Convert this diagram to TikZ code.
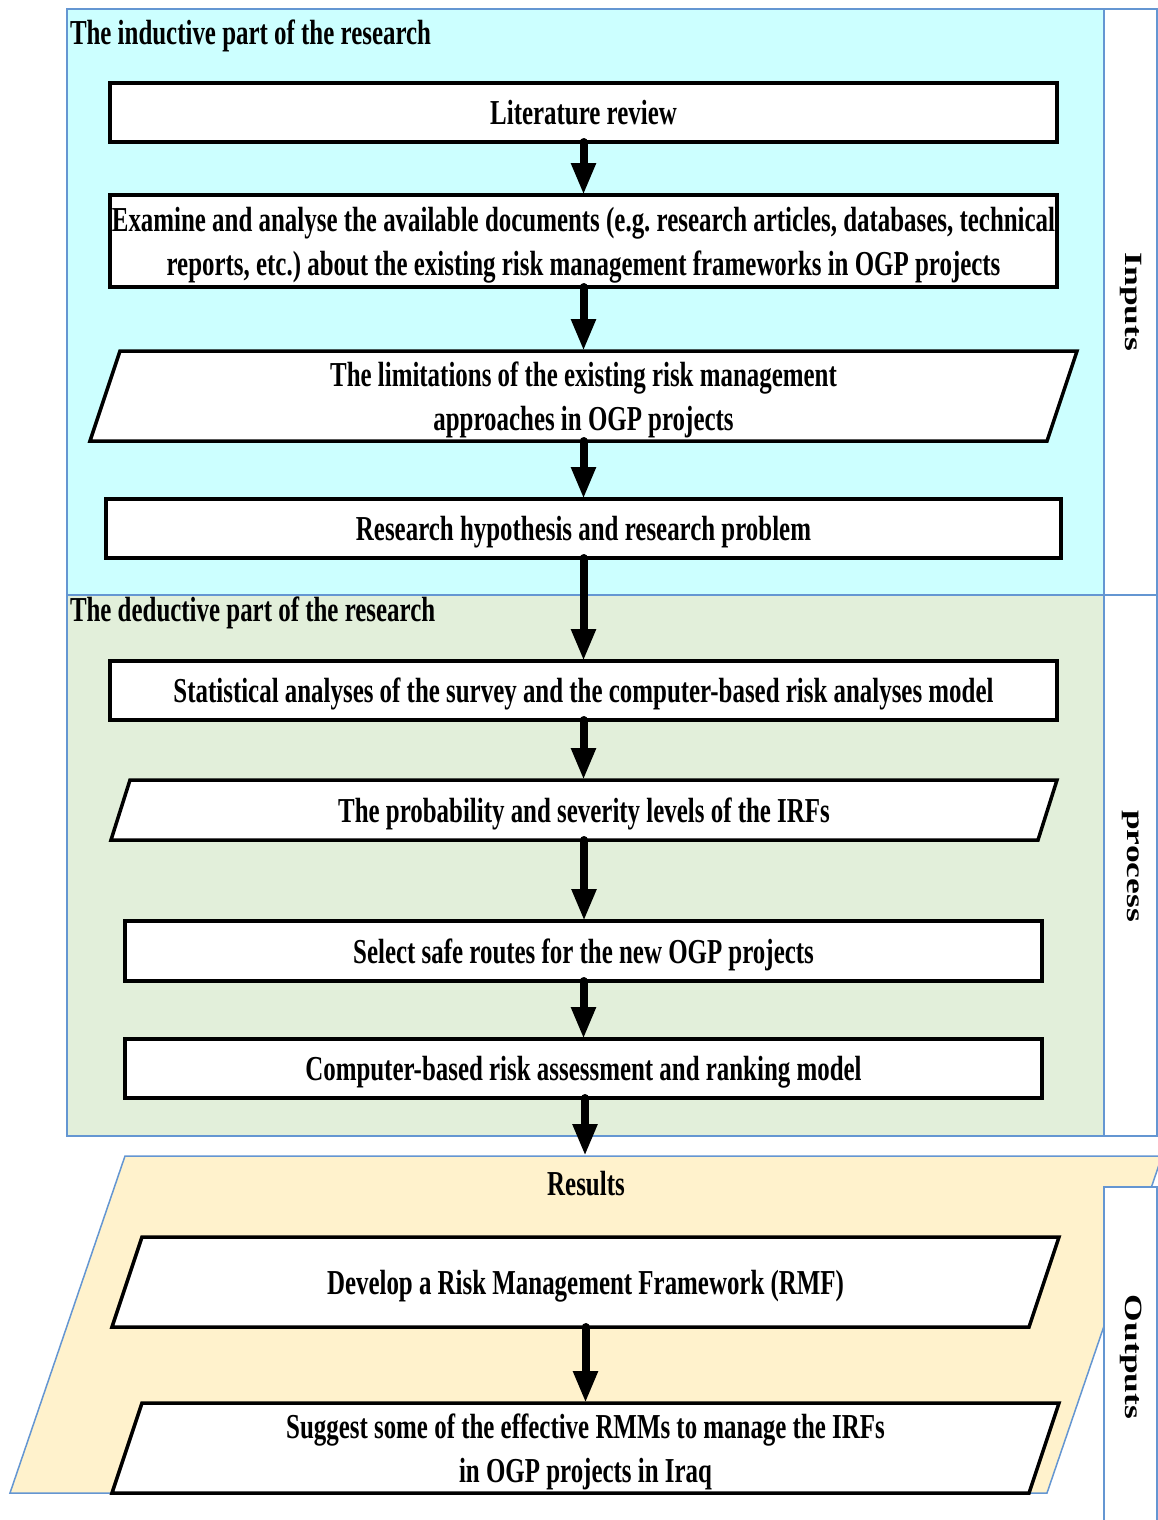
\documentclass[tikz,border=0pt]{standalone}
\usepackage{fontspec}
\setmainfont{Liberation Serif}
\newfontfamily\boxfont{Liberation Serif}[FakeStretch=0.712]
\newfontfamily\sidefont{Liberation Serif}[FakeStretch=1.43]
\usetikzlibrary{arrows.meta,calc}
\pgfdeclarelayer{panels}
\pgfdeclarelayer{shapes}
\pgfsetlayers{panels,shapes,main}

\definecolor{panelblue}{RGB}{100,150,210}
\definecolor{inputfill}{RGB}{204,255,255}
\definecolor{processfill}{RGB}{226,239,218}
\definecolor{outputfill}{RGB}{255,242,204}

\tikzset{
  boxtext/.style={font=\boxfont\bfseries\fontsize{35}{44}\selectfont\frenchspacing,
    align=center, inner sep=0pt, outer sep=0pt, text depth=0pt},
  rectbox/.style={boxtext, draw=black, line width=3.5pt, fill=white},
  slantbox/.style={boxtext},
  shapeline/.style={draw=black, line width=3.5pt, fill=white, line join=miter},
  sidetext/.style={font=\sidefont\bfseries\fontsize{24.8}{30}\selectfont,
    inner sep=0pt, rotate=-90},
  panel/.style={draw=panelblue, line width=1.5pt},
  conn/.style={line width=8pt, line cap=round,
    -{Triangle[width=23pt,length=32pt]}}
}

% parallelogram outline around an (invisible) node: #1 node, #2 slant
\newcommand\slantoutline[2]{%
  \draw[shapeline] ($(#1.north west)+(#2,0)$) -- (#1.north east)
    -- ($(#1.south east)-(#2,0)$) -- (#1.south west) -- cycle;}

\begin{document}
\begin{tikzpicture}[x=1pt,y=-1pt]
\useasboundingbox (0,0) rectangle (1158,1520);

% ---- background panels ----
\begin{pgfonlayer}{panels}
  \fill[white] (0,0) rectangle (1158,1520);
  \filldraw[panel, fill=inputfill] (67,9) rectangle (1104,595);
  \filldraw[panel, fill=white] (1104,9) rectangle (1157,595);
  \filldraw[panel, fill=processfill] (67,595) rectangle (1104,1136);
  \filldraw[panel, fill=white] (1104,595) rectangle (1157,1136);
  \filldraw[panel, fill=outputfill] (125,1156) -- (1162,1156) -- (1047,1493) -- (10,1493) -- cycle;
  \filldraw[panel, fill=white] (1104,1523) -- (1104,1187) -- (1157,1187) -- (1157,1523);
\end{pgfonlayer}

% ---- section headings and side labels ----
\node[boxtext, anchor=base west] (indhead) at (70,45) {The inductive part of the research};
\node[boxtext, anchor=base west] (dedhead) at (70,621) {The deductive part of the research};
\node[sidetext] (inlabel) at (1131,302) {Inputs};
\node[sidetext] (proclabel) at (1131,866) {process};
\node[sidetext] (outlabel) at (1131,1357) {Outputs};

% ---- inductive part ----
\node[rectbox, minimum width=947pt, minimum height=59pt] (lit) at (583.5,112.5) {Literature review};
\node[rectbox, minimum width=947pt, minimum height=92pt] (exam) at (583.5,241)
  {Examine and analyse the available documents (e.g. research articles, databases, technical\\
   reports, etc.) about the existing risk management frameworks in OGP projects};
\node[slantbox, minimum width=987pt, minimum height=90pt] (limit) at (583.5,396)
  {The limitations of the existing risk management\\approaches in OGP projects};
\node[rectbox, minimum width=955pt, minimum height=59pt] (hyp) at (583.5,528.5)
  {Research hypothesis and research problem};

% ---- deductive part ----
\node[rectbox, minimum width=947pt, minimum height=59pt] (stat) at (583.5,690.5)
  {Statistical analyses of the survey and the computer-based risk analyses model};
\node[slantbox, minimum width=946pt, minimum height=60pt] (prob) at (584,810)
  {The probability and severity levels of the IRFs};
\node[rectbox, minimum width=917pt, minimum height=60pt] (safe) at (583.5,951)
  {Select safe routes for the new OGP projects};
\node[rectbox, minimum width=917pt, minimum height=59pt] (model) at (583.5,1068.5)
  {Computer-based risk assessment and ranking model};

% ---- results ----
\coordinate (restop) at (585,1156);
\node[boxtext] (results) at (586,1183) {Results};
\node[slantbox, minimum width=947pt, minimum height=90pt] (rmf) at (585.5,1282)
  {Develop a Risk Management Framework (RMF)};
\node[slantbox, minimum width=947pt, minimum height=90pt] (rmm) at (585.5,1448)
  {Suggest some of the effective RMMs to manage the IRFs\\in OGP projects in Iraq};

\begin{pgfonlayer}{shapes}
  \slantoutline{limit}{30}
  \slantoutline{prob}{19}
  \slantoutline{rmf}{30}
  \slantoutline{rmm}{30}
\end{pgfonlayer}

% ---- connectors ----
\draw[conn] (lit.south) -- (lit.south |- exam.north);
\draw[conn] (exam.south) -- (exam.south |- limit.north);
\draw[conn] (limit.south) -- (limit.south |- hyp.north);
\draw[conn] (hyp.south) -- (hyp.south |- stat.north);
\draw[conn] (stat.south) -- (stat.south |- prob.north);
\draw[conn] (prob.south) -- (prob.south |- safe.north);
\draw[conn] (safe.south) -- (safe.south |- model.north);
\draw[conn] (model.south -| restop) -- (restop);
\draw[conn] (rmf.south) -- (rmf.south |- rmm.north);
\end{tikzpicture}
\end{document}
